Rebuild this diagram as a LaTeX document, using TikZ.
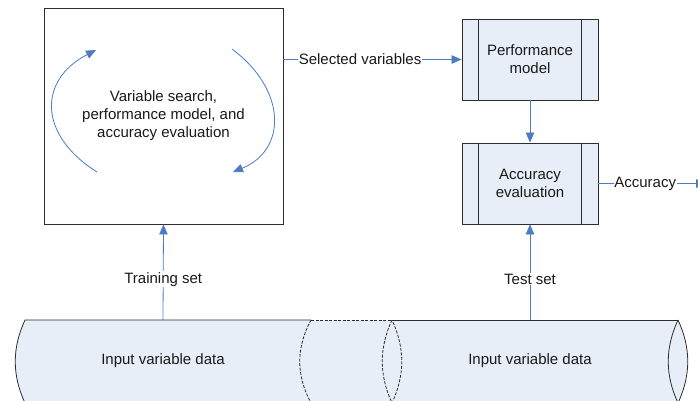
\documentclass[tikz,border=0pt]{standalone}
\usepackage{fontspec}
\setmainfont{Liberation Sans}
\usetikzlibrary{arrows.meta}
\definecolor{fillblue}{RGB}{232,238,248}
\definecolor{lineblue}{RGB}{76,124,196}
\definecolor{edgegray}{RGB}{45,45,45}
\definecolor{txt}{RGB}{25,25,25}
\begin{document}
\begin{tikzpicture}[x=1pt,y=-1pt,
  every node/.style={font=\fontsize{15}{18}\selectfont, text=txt},
  arr/.style={draw=lineblue, line width=0.8pt, -{Triangle[length=10pt,width=8.5pt]}},
  procbox/.style={draw=edgegray, line width=0.9pt, fill=fillblue, minimum width=136pt, minimum height=81pt, inner sep=0pt, align=center},
  bigbox/.style={draw=edgegray, line width=0.9pt, fill=white, minimum width=239pt, minimum height=216pt, inner sep=0pt, align=center},
  lab/.style={fill=white, inner xsep=0.8pt, inner ysep=1pt},
  edge/.style={draw=edgegray, line width=0.8pt},
  dedge/.style={draw=edgegray, line width=0.8pt, dash pattern=on 3pt off 1.5pt}
]
\useasboundingbox (0,0) rectangle (698,401);
% cylinders
\fill[fillblue] (25,320) .. controls (12,348) and (12,375) .. (25,403) -- (678,403)
  .. controls (691,375) and (691,348) .. (678,320) -- cycle;
\draw[edge] (311,320) -- (25,320) .. controls (12,348) and (12,375) .. (25,403) -- (311,403);
\draw[dedge] (311,320) .. controls (296,348) and (296,375) .. (311,403);
\draw[dedge] (311,320) -- (392,320);
\draw[dedge] (311,403) -- (392,403);
\draw[dedge] (392,320) .. controls (379,348) and (379,375) .. (392,403)
  .. controls (405,375) and (405,348) .. (392,320);
\draw[edge] (392,320) -- (678,320);
\draw[edge] (392,403) -- (678,403);
\draw[edge] (678,320) .. controls (665,348) and (665,375) .. (678,403)
  .. controls (691,375) and (691,348) .. (678,320);
\node (in1) at (163,361) {Input variable data};
\node (in2) at (530,361) {Input variable data};
\coordinate (trtop) at (163,320);
\coordinate (tstop) at (530,320);
% big box
\node[bigbox] (big) at (163.5,116) {};
\node (bigtxt) at (163.5,116) [align=center] {Variable search,\\performance model, and\\accuracy evaluation};
\coordinate (la1) at (97,172);
\coordinate (la2) at (96,50);
\coordinate (ra1) at (232,49);
\coordinate (ra2) at (233,172);
\draw[arr] (la1) .. controls (38,135) and (38,80) .. (la2);
\draw[arr] (ra1) .. controls (287,90) and (287,150) .. (ra2);
% process boxes
\node[procbox] (perf) at (530,59.5) {Performance\\model};
\draw[edgegray, line width=0.9pt] ([xshift=17pt]perf.north west) -- ([xshift=17pt]perf.south west)
  ([xshift=-17pt]perf.north east) -- ([xshift=-17pt]perf.south east);
\node[procbox] (acc) at (530,183.5) {Accuracy\\evaluation};
\draw[edgegray, line width=0.9pt] ([xshift=17pt]acc.north west) -- ([xshift=17pt]acc.south west)
  ([xshift=-17pt]acc.north east) -- ([xshift=-17pt]acc.south east);
\coordinate (accend) at (706,183.5);
% connectors
\draw[arr] (big.east |- perf.west) -- node[lab, pos=0.43] {Selected variables} (perf.west);
\draw[arr] (perf.south) -- (acc.north);
\draw[arr] (acc.east) -- node[lab, pos=0.435] {Accuracy} (accend);
\draw[arr] (trtop) -- node[lab, pos=0.427] {Training set} (big.south);
\draw[arr] (tstop) -- node[lab, pos=0.427] {Test set} (acc.south);
\end{tikzpicture}
\end{document}
